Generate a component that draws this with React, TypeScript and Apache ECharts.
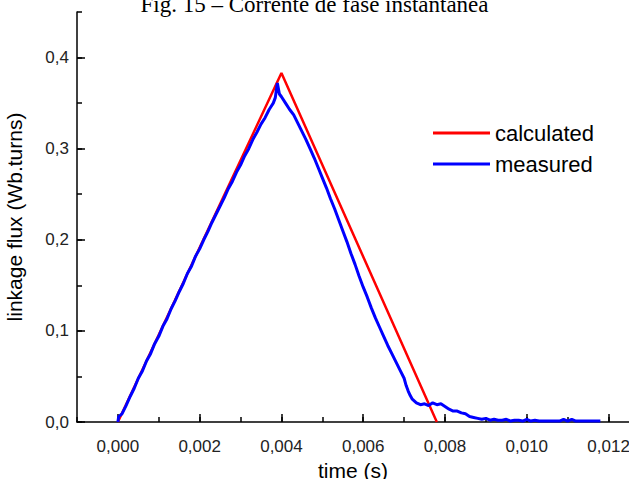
import React, { useEffect, useRef } from "react";
import * as echarts from "echarts";

const titleText = "Fig. 15 – Corrente de fase instantânea";
const xName = "time (s)";
const yName = "linkage flux (Wb.turns)";
const seriesNames = ["calculated", "measured"];

const xMajorTicks = [0, 0.002, 0.004, 0.006, 0.008, 0.01, 0.012];
const yMajorTicks = [0, 0.1, 0.2, 0.3, 0.4];

const calculated: [number, number][] = [
  [0, 0],
  [0.004, 0.383],
  [0.0078, 0],
];

const measured: [number, number][] = [
  [0, 0], [0.00002, 0.006], [0.0001, 0.009], [0.0002, 0.018], [0.0003, 0.028],
  [0.0004, 0.037], [0.0005, 0.048], [0.0006, 0.056], [0.0007, 0.067],
  [0.0008, 0.075], [0.0009, 0.086], [0.001, 0.094], [0.0011, 0.105],
  [0.0012, 0.113], [0.0013, 0.124], [0.0014, 0.133], [0.0015, 0.143],
  [0.0016, 0.152], [0.0017, 0.163], [0.0018, 0.171], [0.0019, 0.182],
  [0.002, 0.19], [0.0021, 0.2], [0.0022, 0.209], [0.0023, 0.219],
  [0.0024, 0.228], [0.0025, 0.237], [0.0026, 0.246], [0.0027, 0.256],
  [0.0028, 0.264], [0.0029, 0.274], [0.003, 0.282], [0.0031, 0.292],
  [0.0032, 0.3], [0.0033, 0.31], [0.0034, 0.318], [0.0035, 0.327],
  [0.0036, 0.334], [0.0037, 0.343], [0.0038, 0.35], [0.00385, 0.356],
  [0.0039, 0.372], [0.00395, 0.36], [0.004, 0.357], [0.0041, 0.35],
  [0.0042, 0.343], [0.0043, 0.337], [0.0044, 0.328], [0.0045, 0.319],
  [0.0046, 0.31], [0.0047, 0.3], [0.0048, 0.29], [0.0049, 0.279],
  [0.005, 0.268], [0.0051, 0.257], [0.0052, 0.245], [0.0053, 0.234],
  [0.0054, 0.222], [0.0055, 0.21], [0.0056, 0.198], [0.0057, 0.185],
  [0.0058, 0.173], [0.0059, 0.16], [0.006, 0.148], [0.0061, 0.137],
  [0.0062, 0.125], [0.0063, 0.114], [0.0064, 0.104], [0.0065, 0.094],
  [0.0066, 0.084], [0.0067, 0.075], [0.0068, 0.066], [0.0069, 0.057],
  [0.007, 0.048], [0.00705, 0.04], [0.0071, 0.034], [0.00715, 0.029],
  [0.0072, 0.025], [0.0073, 0.021], [0.0074, 0.019], [0.0075, 0.02],
  [0.0076, 0.018], [0.0077, 0.021], [0.0078, 0.019], [0.0079, 0.02],
  [0.008, 0.017], [0.0081, 0.014], [0.0082, 0.012], [0.0083, 0.012],
  [0.0084, 0.01], [0.0085, 0.009], [0.0086, 0.006], [0.0087, 0.005],
  [0.0088, 0.004], [0.0089, 0.003], [0.009, 0.004], [0.0091, 0.002],
  [0.0092, 0.003], [0.0093, 0.002], [0.0094, 0.002], [0.0095, 0.003],
  [0.0096, 0.001], [0.0097, 0.002], [0.0098, 0.002], [0.0099, 0.001],
  [0.01, 0.003], [0.0101, 0.001], [0.0102, 0.002], [0.0103, 0.001],
  [0.0104, 0.001], [0.0105, 0.001], [0.0106, 0.001], [0.0107, 0.001],
  [0.0108, 0.001], [0.0109, 0.003], [0.011, 0.001], [0.0111, 0.003],
  [0.0112, 0.001], [0.0113, 0.001], [0.0114, 0.001], [0.0115, 0.001],
  [0.0116, 0.001], [0.0117, 0.001], [0.0118, 0.001],
];

const fmt = (v: number, d: number) => v.toFixed(d).replace(".", ",");

export default function App() {
  const ref = useRef<HTMLDivElement>(null);
  useEffect(() => {
    if (!ref.current) return;
    const chart = echarts.init(ref.current, null, { renderer: "svg" });
    const lineStyle = { color: "#000", width: 1.5 };
    chart.setOption({
      animation: false,
      backgroundColor: "#fff",
      title: {
        text: titleText,
        left: "center",
        top: -12,
        textStyle: {
          fontFamily: "Liberation Serif",
          fontWeight: "normal",
          fontSize: 23,
          color: "#000",
        },
      },
      legend: {
        orient: "vertical",
        left: 433,
        top: 122,
        padding: 0,
        icon: "rect",
        itemWidth: 57,
        itemHeight: 3,
        itemGap: 9,
        textStyle: { fontFamily: "Liberation Sans", fontSize: 22, color: "#000" },
        data: seriesNames,
      },
      grid: { left: 77, right: 0, top: 12, bottom: 57, outerBoundsMode: "none", containLabel: false },
      xAxis: [
        {
          type: "value",
          min: -0.001,
          max: 0.0125,
          interval: 0.001,
          name: xName,
          nameLocation: "middle",
          nameGap: 37,
          nameTextStyle: { fontFamily: "Liberation Sans", fontSize: 21, color: "#000" },
          axisLine: { show: true, onZero: false, lineStyle },
          splitLine: { show: false },
          axisTick: { show: true, inside: true, length: 5, lineStyle },
          axisLabel: {
            show: true,
            margin: 16,
            fontFamily: "Liberation Sans",
            fontSize: 17,
            color: "#222",
            showMaxLabel: false,
            formatter: (v: number) => {
              const k = Math.round(v * 1e6);
              if (k < 0 || k % 2000 !== 0) return "";
              return fmt(v, 3);
            },
          },
        },
        {
          type: "value",
          min: -0.001,
          max: 0.0125,
          position: "bottom",
          axisLine: { show: false, onZero: false },
          splitLine: { show: false },
          axisTick: {
            show: true,
            inside: true,
            length: 8,
            customValues: xMajorTicks,
            lineStyle,
          },
          axisLabel: { show: false },
        },
      ],
      yAxis: [
        {
          type: "value",
          min: 0,
          max: 0.45,
          interval: 0.05,
          name: yName,
          nameLocation: "middle",
          nameGap: 52,
          nameRotate: 90,
          nameTextStyle: { fontFamily: "Liberation Sans", fontSize: 21, color: "#000" },
          axisLine: { show: true, onZero: false, lineStyle },
          splitLine: { show: false },
          axisTick: { show: true, inside: true, length: 5, lineStyle },
          axisLabel: {
            show: true,
            margin: 8,
            fontFamily: "Liberation Sans",
            fontSize: 17,
            color: "#222",
            formatter: (v: number) => {
              const k = Math.round(v * 1000);
              if (k % 100 !== 0) return "";
              return fmt(v, 1);
            },
          },
        },
        {
          type: "value",
          min: 0,
          max: 0.45,
          position: "left",
          axisLine: { show: false, onZero: false },
          splitLine: { show: false },
          axisTick: {
            show: true,
            inside: true,
            length: 8,
            customValues: yMajorTicks,
            lineStyle,
          },
          axisLabel: { show: false },
        },
      ],
      series: [
        {
          name: seriesNames[0],
          type: "line",
          data: calculated,
          showSymbol: false,
          lineStyle: { color: "#ff0000", width: 2.5 },
          itemStyle: { color: "#ff0000" },
          z: 2,
        },
        {
          name: seriesNames[1],
          type: "line",
          data: measured,
          showSymbol: false,
          lineStyle: { color: "#0000ff", width: 3 },
          itemStyle: { color: "#0000ff" },
          z: 3,
        },
      ],
    });
    return () => chart.dispose();
  }, []);
  return (
    <div
      ref={ref}
      style={{ position: "fixed", left: 0, top: 0, width: 629, height: 479 }}
    />
  );
}
